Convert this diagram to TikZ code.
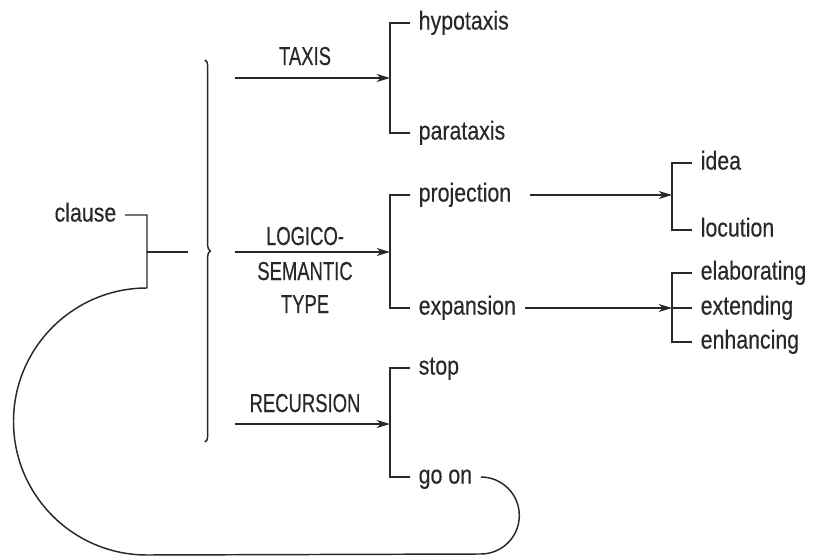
\documentclass[tikz,border=0pt]{standalone}
\usepackage{fontspec}
\setmainfont[FakeStretch=0.82,FakeBold=0.3]{Liberation Sans}
\newfontfamily\capsfont[FakeStretch=0.71,FakeBold=0.3]{Liberation Sans}
\usetikzlibrary{arrows.meta,decorations.pathreplacing}
\definecolor{inkgray}{RGB}{40,40,40}
\tikzset{every picture/.style={line width=1.1pt}}
\tikzset{
  lbl/.style={font=\fontsize{19.5}{24.75}\selectfont, text=inkgray, inner sep=0pt},
  syslbl/.style={lbl, font=\capsfont\fontsize{19.5}{24.75}\selectfont, anchor=base},
  leaf/.style={lbl, anchor=west, inner xsep=6pt, text height=13.5pt, text depth=3.7pt},
  sysarr/.style={draw=inkgray, -{Stealth[length=10pt,width=6pt,inset=3pt]}},
  tree/.style={draw=inkgray}
}

\begin{document}
\begin{tikzpicture}[x=0.75pt,y=0.75pt,yscale=-1,xscale=1]
\useasboundingbox (0,0) rectangle (815,560);

% Text Node
\node [leaf, anchor=east] (clause) at (125,215) {clause};
% Text Node
\node [syslbl] (taxis) at (305,65) {TAXIS};
% Text Node
\node [syslbl] (logico) at (305,245) {LOGICO-};
% Text Node
\node [syslbl, align=center] (semtype) at (305,313) {SEMANTIC\\TYPE};
% Text Node
\node [syslbl] (recursion) at (305,412) {RECURSION};

% Text Node
\node [leaf] (hypo) at (410,23) {hypotaxis};
\node [leaf] (para) at (410,133) {parataxis};
\node [leaf] (proj) at (410,195) {projection};
\node [leaf] (expn) at (410,308) {expansion};
\node [leaf] (stop) at (410,368) {stop};
\node [leaf] (goon) at (410,477) {go on};
% Text Node
\node [leaf] (idea) at (692,163) {idea};
\node [leaf] (locu) at (692,230) {locution};
\node [leaf] (elab) at (692,273) {elaborating};
\node [leaf] (extd) at (692,308) {extending};
\node [leaf] (enhc) at (692,342) {enhancing};

\coordinate (join) at (147,252);
\coordinate (bracein) at (188,252);
\coordinate (loopbot) at (147,555);
\coordinate (taxin) at (235,78);
\coordinate (taxfork) at (390,78);
\coordinate (login) at (235,252);
\coordinate (logfork) at (390,252);
\coordinate (recin) at (235,424);
\coordinate (recfork) at (390,424);
\coordinate (projout) at (530,195);
\coordinate (projfork) at (672,195);
\coordinate (expout) at (525,308);
\coordinate (expfork) at (672,308);

%Straight Lines
\draw [tree] (join) -- (bracein);
%Curve Lines
\draw [tree] (goon.east) arc[start angle=-90, end angle=90, radius=38.5] -- (loopbot) arc[start angle=90, end angle=270, radius=133.5] |- (clause.east);
%Shape: Brace
\draw [tree, decorate, decoration={brace, amplitude=4pt}] (205,60) -- (205,442);

%Straight Lines
\draw [sysarr] (taxin) -- (taxfork);
\draw [sysarr] (login) -- (logfork);
\draw [sysarr] (recin) -- (recfork);
\draw [sysarr] (projout) -- (projfork);
\draw [sysarr] (expout) -- (expfork);

%Straight Lines
\draw [tree] (hypo.west) -| (taxfork) |- (para.west);
\draw [tree] (proj.west) -| (logfork) |- (expn.west);
\draw [tree] (stop.west) -| (recfork) |- (goon.west);
\draw [tree] (idea.west) -| (projfork) |- (locu.west);
\draw [tree] (elab.west) -| (expfork) |- (enhc.west);
\draw [tree] (expfork) -- (extd.west);

\end{tikzpicture}
\end{document}
